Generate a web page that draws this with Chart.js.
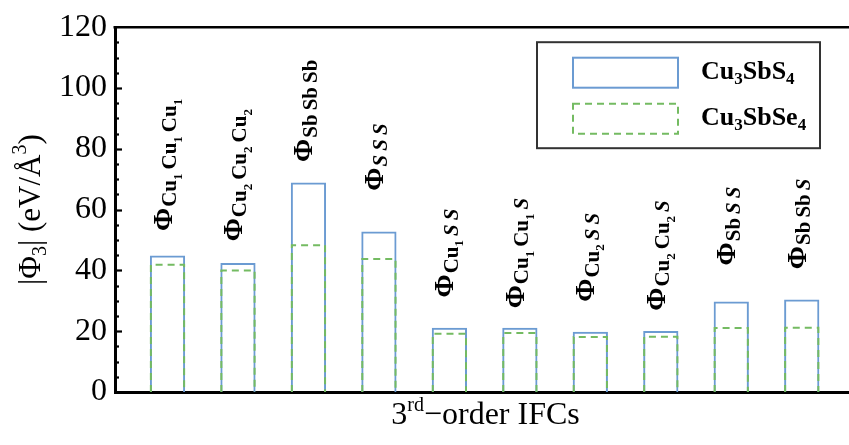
<!DOCTYPE html>
<html>
<head>
<meta charset="utf-8">
<script src="https://cdn.jsdelivr.net/npm/chart.js@4.4.1/dist/chart.umd.min.js"></script>
<style>
  html, body { margin: 0; padding: 0; background: #fff; overflow: hidden; }
  #wrap { width: 856px; height: 445px; }
</style>
</head>
<body>
<div id="wrap"><canvas id="myChart"></canvas></div>
<script>
// IFC names, digits after an element are subscripts, S is set in italics
const categories = ["Cu1 Cu1 Cu1", "Cu2 Cu2 Cu2", "Sb Sb Sb", "S S S", "Cu1 S S",
  "Cu1 Cu1 S", "Cu2 S S", "Cu2 Cu2 S", "Sb S S", "Sb Sb S"];
const seriesNames = ["Cu3SbS4", "Cu3SbSe4"];
const cu3sbs4 = [44.9, 42.4, 68.9, 52.8, 21.1, 21.1, 19.8, 20.1, 29.8, 30.4];
const cu3sbse4 = [42.2, 40.3, 48.6, 44.1, 19.5, 19.7, 18.4, 18.5, 21.4, 21.5];
// where the Phi label of each bar sits (value units, middle of the label)
const labelValues = [74.7, 71.3, 92.5, 77.3, 45.7, 45.7, 44.3, 44.9, 54.6, 55.3];
const yTickValues = [0, 20, 40, 60, 80, 100, 120];

const SERIF = '"Liberation Serif", "Times New Roman", serif';
const blue = "#6b9bd2";
const green = "#74bb62";

function font(size, bold, italic) {
  return (italic ? "italic " : "") + (bold ? "bold " : "") + size + "px " + SERIF;
}

// draws a list of text pieces one after another on a common baseline
function drawRich(ctx, parts, x, y, align) {
  let total = 0;
  parts.forEach((p) => {
    ctx.font = font(p.size, p.bold, p.italic);
    p.w = ctx.measureText(p.t).width + (p.pad || 0);
    total += p.w;
  });
  let cx = align === "center" ? x - total / 2 : x;
  parts.forEach((p) => {
    ctx.font = font(p.size, p.bold, p.italic);
    ctx.fillText(p.t, cx, y + (p.dy || 0));
    cx += p.w;
  });
}

function phiParts(name) {
  const parts = [{ t: "Φ", size: 28, bold: true, pad: 1 }];
  const atoms = name.split(" ");
  atoms.forEach((atom, k) => {
    const m = atom.match(/^([A-Za-z]+)(\d*)$/);
    parts.push({ t: m[1], size: 21, bold: true, italic: m[1] === "S", dy: 4.5 });
    if (m[2]) parts.push({ t: m[2], size: 13, bold: true, dy: 10 });
    if (k < atoms.length - 1) parts.push({ t: " ", size: 16, bold: true });
  });
  return parts;
}

function formulaParts(name) {
  return name.split(/(\d+)/).filter((s) => s).map((s) =>
    /\d/.test(s) ? { t: s, size: 17, bold: true, dy: 5 } : { t: s, size: 26, bold: true });
}

const decorations = {
  id: "decorations",
  afterDraw(chart) {
    const { ctx, chartArea: ca } = chart;
    const x = chart.scales.x, y = chart.scales.y;
    ctx.save();

    // top frame line
    ctx.strokeStyle = "#000";
    ctx.lineWidth = 2.5;
    ctx.beginPath();
    ctx.moveTo(ca.left - 1.5, ca.top);
    ctx.lineTo(ca.right, ca.top);
    ctx.stroke();

    // inward ticks, minor every 5
    ctx.lineWidth = 2.2;
    for (let v = y.min; v <= y.max; v += 5) {
      if (v === y.min || v === y.max) continue;
      const py = Math.round(y.getPixelForValue(v)) + 0.5;
      const len = v % 20 === 0 ? 7 : 4;
      ctx.beginPath();
      ctx.moveTo(ca.left, py);
      ctx.lineTo(ca.left + len, py);
      ctx.stroke();
    }

    // dashed outlines of the second series
    const meta = chart.getDatasetMeta(1);
    ctx.strokeStyle = green;
    ctx.lineWidth = 2;
    ctx.setLineDash([7, 5]);
    meta.data.forEach((el) => {
      const p = el.getProps(["x", "y", "base", "width"], true);
      const l = p.x - p.width / 2 + 1, r = p.x + p.width / 2 - 1;
      ctx.beginPath();
      ctx.moveTo(l, p.base);
      ctx.lineTo(l, p.y + 1);
      ctx.lineTo(r, p.y + 1);
      ctx.lineTo(r, p.base);
      ctx.stroke();
    });
    ctx.setLineDash([]);

    // Phi labels above the bars
    ctx.fillStyle = "#000";
    ctx.textBaseline = "alphabetic";
    categories.forEach((name, i) => {
      ctx.save();
      ctx.translate(x.getPixelForValue(i), y.getPixelForValue(labelValues[i]));
      ctx.rotate(-Math.PI / 2);
      drawRich(ctx, phiParts(name), 0, 4, "center");
      ctx.restore();
    });

    // legend
    const bw = 283, bh = 106;
    const bx = ca.right - 36 - bw, by = ca.top + 15;
    ctx.strokeStyle = "#333";
    ctx.lineWidth = 2;
    ctx.strokeRect(bx, by, bw, bh);
    seriesNames.forEach((name, k) => {
      const sy = by + 15.5 + k * 46;
      ctx.lineWidth = 2;
      if (k === 0) {
        ctx.strokeStyle = blue;
      } else {
        ctx.strokeStyle = green;
        ctx.setLineDash([7, 5]);
      }
      ctx.strokeRect(bx + 36, sy, 105, 30);
      ctx.setLineDash([]);
      ctx.fillStyle = "#000";
      drawRich(ctx, formulaParts(name), bx + 164, sy + 21, "left");
    });

    // axis titles
    drawRich(ctx, [
      { t: "3", size: 32 },
      { t: "rd", size: 20, dy: -13 },
      { t: "\u2212order IFCs", size: 32 }
    ], (ca.left + ca.right) / 2, ca.bottom + 32, "center");

    ctx.save();
    ctx.translate(40, (ca.top + ca.bottom) / 2);
    ctx.rotate(-Math.PI / 2);
    drawRich(ctx, [
      { t: "|Φ", size: 31 },
      { t: "3", size: 20, dy: 6 },
      { t: "| (eV/Å", size: 31 },
      { t: "3", size: 20, dy: -14 },
      { t: ")", size: 31 }
    ], 0, 0, "center");
    ctx.restore();

    ctx.restore();
  }
};

const ctx = document.getElementById("myChart");

new Chart(ctx, {
  type: "bar",
  data: {
    datasets: [
      {
        label: seriesNames[0],
        data: cu3sbs4.map((v, i) => ({ x: i, y: v })),
        backgroundColor: "rgba(0,0,0,0)",
        borderColor: blue,
        borderWidth: 2,
        grouped: false,
        categoryPercentage: 1,
        barPercentage: 0.5
      },
      {
        label: seriesNames[1],
        data: cu3sbse4.map((v, i) => ({ x: i, y: v })),
        backgroundColor: "rgba(0,0,0,0)",
        borderColor: green,
        borderWidth: 0,
        grouped: false,
        categoryPercentage: 1,
        barPercentage: 0.5
      }
    ]
  },
  options: {
    responsive: true,
    maintainAspectRatio: false,
    animation: false,
    layout: { padding: { top: 22, left: 0, right: 0, bottom: 0 } },
    plugins: {
      legend: { display: false },
      tooltip: { enabled: false }
    },
    scales: {
      x: {
        type: "linear",
        min: -0.745,
        max: 9.77,
        offset: false,
        ticks: { display: false, stepSize: 1, includeBounds: false },
        grid: { display: false, drawTicks: false },
        border: { display: true, width: 3, color: "#000" },
        afterFit(scale) { scale.height = 53; }
      },
      y: {
        min: 0,
        max: 120,
        afterBuildTicks(scale) {
          scale.ticks = yTickValues.map((v) => ({ value: v }));
        },
        ticks: {
          padding: 8,
          color: "#000",
          font: { family: SERIF, size: 32 }
        },
        grid: { display: false, drawTicks: false },
        border: { display: true, width: 3, color: "#000" },
        afterFit(scale) { scale.width = 115; }
      }
    }
  },
  plugins: [decorations]
});
</script>
</body>
</html>
